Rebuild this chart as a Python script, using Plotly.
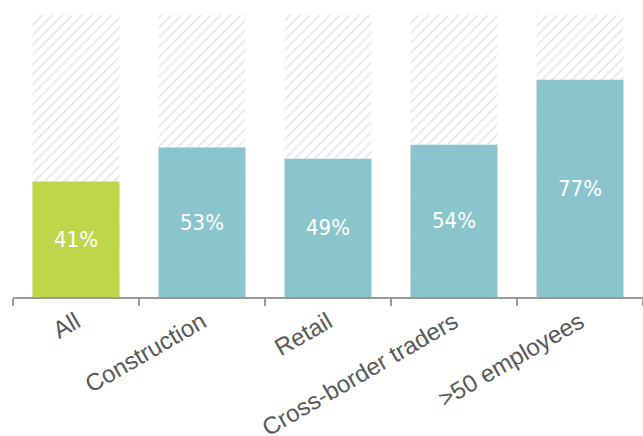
import plotly.graph_objects as go

categories = ["All", "Construction", "Retail", "Cross-border traders", ">50 employees"]
values = [41, 53, 49, 54, 77]
totals = [100, 100, 100, 100, 100]
colors = ["#BDD64A", "#8AC5CD", "#8AC5CD", "#8AC5CD", "#8AC5CD"]
labels = [f"{v}%" for v in values]

fig = go.Figure()
fig.add_trace(go.Bar(
    x=categories, y=totals, width=0.69,
    marker=dict(color="white", line=dict(width=0),
                pattern=dict(shape="/", fgcolor="#c8c8c8", bgcolor="white", size=7, solidity=0.22)),
    hoverinfo="skip", showlegend=False,
))
fig.add_trace(go.Bar(
    x=categories, y=values, width=0.69,
    marker=dict(color=colors, line=dict(width=0)),
    text=labels, textposition="inside", insidetextanchor="middle",
    textfont=dict(family="DejaVu Sans Condensed, Liberation Sans Narrow, DejaVu Sans", size=22, color="white"),
    textangle=0, showlegend=False,
))
fig.update_layout(
    barmode="overlay",
    width=643, height=436,
    margin=dict(l=13, r=0, t=15, b=139),
    plot_bgcolor="white", paper_bgcolor="white",
    xaxis=dict(showline=True, linecolor="#9a9a9a", linewidth=1.5, automargin=False,
               ticks="outside", tickson="boundaries", ticklen=7, tickcolor="#9a9a9a", tickwidth=1.5,
               tickangle=-30, tickfont=dict(family="Liberation Sans, Arial", size=24, color="#595959")),
    yaxis=dict(range=[0, 100], visible=False, showgrid=False, automargin=False),
    uniformtext=dict(mode=False),
)
fig.write_html(
    "out.html",
    config={"displayModeBar": False},
    post_script="document.body.style.margin='0';document.body.style.overflow='hidden';",
)
